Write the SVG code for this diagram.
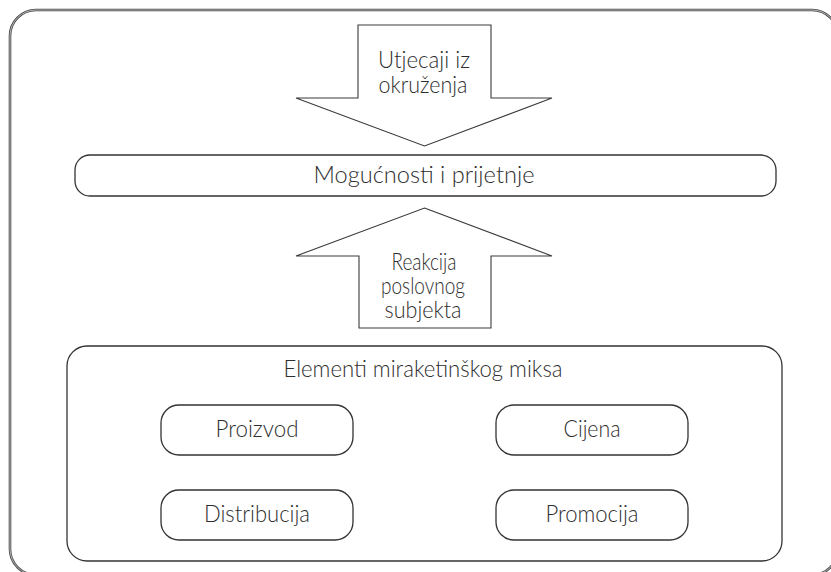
<svg xmlns="http://www.w3.org/2000/svg" width="831" height="572" viewBox="0 0 831 572">
  <style>
    .box { fill: #ffffff; stroke: #333333; stroke-width: 1.3; }
    .arrow { fill: #ffffff; stroke: #3a3a3a; stroke-width: 1.1; stroke-linejoin: miter; }
    .lbl { font-family: Lato, "Liberation Sans", sans-serif; font-weight: 300; font-size: 23px; fill: #2e2e2e; text-anchor: middle; }
  </style>
  <rect width="831" height="572" fill="#ffffff"/>
  <g id="frame">
    <rect x="10" y="10" width="828" height="565" rx="26" ry="26" fill="none" stroke="#4a4a4a" stroke-width="2.6"/>
    <rect x="10" y="10" width="828" height="565" rx="26" ry="26" fill="none" stroke="#cfcfcf" stroke-width="0.8"/>
  </g>
  <g id="connectors">
    <g id="arrow-utjecaji">
      <path class="arrow" d="M358,25 H491 V98 H552 L424.5,146 L296,98 H358 Z"/>
      <text class="lbl" x="424" y="68" textLength="92" lengthAdjust="spacingAndGlyphs">Utjecaji iz</text>
      <text class="lbl" x="423" y="93" textLength="89" lengthAdjust="spacingAndGlyphs">okruženja</text>
    </g>
    <g id="arrow-reakcija">
      <path class="arrow" d="M424.5,208 L552,256 H491 V328 H359 V256 H296 Z"/>
      <text class="lbl" x="424" y="270" textLength="65" lengthAdjust="spacingAndGlyphs">Reakcija</text>
      <text class="lbl" x="423" y="294" textLength="84" lengthAdjust="spacingAndGlyphs">poslovnog</text>
      <text class="lbl" x="423" y="318" textLength="77" lengthAdjust="spacingAndGlyphs">subjekta</text>
    </g>
  </g>
  <g id="mogucnosti">
    <rect class="box" x="75" y="155" width="701" height="41" rx="15" ry="15"/>
    <text class="lbl" x="424" y="183" textLength="221" lengthAdjust="spacingAndGlyphs">Mogućnosti i prijetnje</text>
  </g>
  <g id="elementi">
    <rect class="box" x="67" y="346" width="715" height="215" rx="20" ry="20"/>
    <text class="lbl" x="423" y="377" textLength="279" lengthAdjust="spacingAndGlyphs">Elementi miraketinškog miksa</text>
  </g>
  <g id="proizvod">
    <rect class="box" x="161" y="405" width="192" height="50" rx="18" ry="18"/>
    <text class="lbl" x="257" y="437" textLength="83" lengthAdjust="spacingAndGlyphs">Proizvod</text>
  </g>
  <g id="cijena">
    <rect class="box" x="496" y="405" width="192" height="50" rx="18" ry="18"/>
    <text class="lbl" x="592" y="437" textLength="57" lengthAdjust="spacingAndGlyphs">Cijena</text>
  </g>
  <g id="distribucija">
    <rect class="box" x="161" y="490" width="192" height="50" rx="18" ry="18"/>
    <text class="lbl" x="257" y="522" textLength="106" lengthAdjust="spacingAndGlyphs">Distribucija</text>
  </g>
  <g id="promocija">
    <rect class="box" x="496" y="490" width="192" height="50" rx="18" ry="18"/>
    <text class="lbl" x="592" y="522" textLength="93" lengthAdjust="spacingAndGlyphs">Promocija</text>
  </g>
</svg>
